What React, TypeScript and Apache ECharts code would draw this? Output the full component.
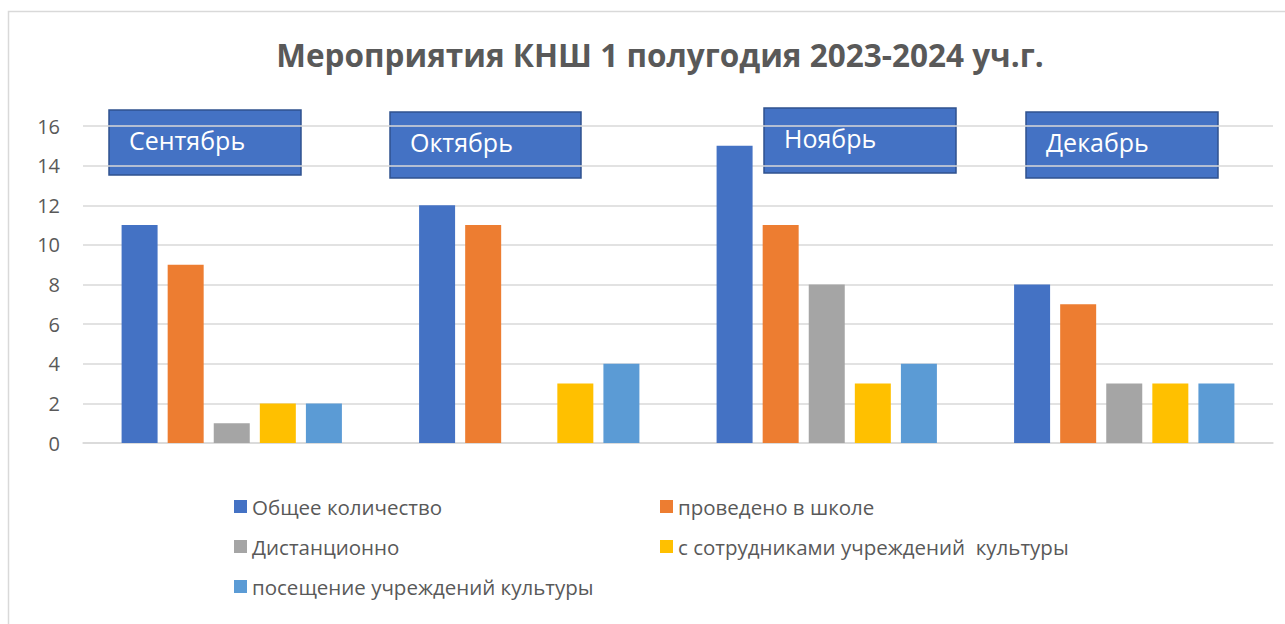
import React, { useEffect, useRef } from "react";
import * as echarts from "echarts";

const categories = ["Сентябрь", "Октябрь", "Ноябрь", "Декабрь"];
const seriesNames = [
  "Общее количество",
  "проведено в школе",
  "Дистанционно",
  "с сотрудниками учреждений  культуры",
  "посещение учреждений культуры",
];
const totalCount = [11, 12, 15, 8];
const inSchool = [9, 11, 11, 7];
const remote = [1, 0, 8, 3];
const withCulture = [2, 3, 3, 3];
const visitCulture = [2, 4, 4, 3];
const colors = ["#4472C4", "#ED7D31", "#A5A5A5", "#FFC000", "#5B9BD5"];

const monthBoxes = [
  { text: "Сентябрь", x: 109, y: 110, w: 192, h: 65 },
  { text: "Октябрь", x: 390, y: 112, w: 191, h: 66 },
  { text: "Ноябрь", x: 764, y: 108, w: 192, h: 65 },
  { text: "Декабрь", x: 1026, y: 112, w: 192, h: 66 },
];

const FONT = "'Open Sans', 'Noto Sans', sans-serif";

export default function App() {
  const ref = useRef<HTMLDivElement>(null);
  useEffect(() => {
    if (!ref.current) return;
    const chart = echarts.init(ref.current, null, { renderer: "svg" });
    const values = [totalCount, inSchool, remote, withCulture, visitCulture];
    const legendText = { color: "#595959", fontSize: 20.5, fontFamily: FONT, lineHeight: 20 };
    chart.setOption({
      animation: false,
      backgroundColor: "#ffffff",
      title: {
        text: "Мероприятия КНШ 1 полугодия 2023-2024 уч.г.",
        left: 655,
        textAlign: "center",
        top: 33,
        textStyle: { color: "#595959", fontSize: 31.5, fontWeight: "bold", fontFamily: FONT },
      },
      grid: { left: 83, right: 12, top: 126, height: 317 },
      xAxis: {
        type: "category",
        data: categories,
        axisLine: { lineStyle: { color: "#d9d9d9", width: 1.5 } },
        axisTick: { show: false },
        axisLabel: { show: false },
      },
      yAxis: {
        type: "value",
        min: 0,
        max: 16,
        interval: 2,
        axisLine: { show: false },
        axisTick: { show: false },
        axisLabel: { color: "#595959", fontSize: 20, fontFamily: FONT, margin: 23 },
        splitLine: { lineStyle: { color: "#d9d9d9", width: 1.5 } },
      },
      legend: [
        {
          orient: "vertical",
          left: 234,
          top: 496,
          padding: 0,
          itemWidth: 13,
          itemHeight: 13,
          itemGap: 19,
          icon: "rect",
          textStyle: legendText,
          data: [seriesNames[0], seriesNames[2], seriesNames[4]],
        },
        {
          orient: "vertical",
          left: 660,
          top: 496,
          padding: 0,
          itemWidth: 13,
          itemHeight: 13,
          itemGap: 19,
          icon: "rect",
          textStyle: legendText,
          data: [seriesNames[1], seriesNames[3]],
        },
      ],
      series: seriesNames.map((name, i) => ({
        name,
        type: "bar",
        data: values[i],
        barWidth: 36,
        barGap: "28%",
        itemStyle: { color: colors[i] },
      })),
      graphic: [
        {
          type: "rect",
          silent: true,
          shape: { x: 8.5, y: 11.5, width: 1300, height: 640 },
          style: { fill: "none", stroke: "#d9d9d9", lineWidth: 1.5 },
          z: -10,
        },
        ...monthBoxes.map((b) => ({
          type: "group",
          z: 100,
          children: [
            {
              type: "rect",
              shape: { x: b.x, y: b.y, width: b.w, height: b.h },
              style: { fill: "#4472C4", stroke: "#2F528F", lineWidth: 1.5 },
            },
            {
              type: "text",
              x: b.x + 20,
              y: b.y + 30,
              style: {
                text: b.text,
                fill: "#ffffff",
                fontSize: 25,
                fontFamily: FONT,
                verticalAlign: "middle",
                align: "left",
              },
            },
          ],
        })),
      ],
    });
    return () => chart.dispose();
  }, []);
  return (
    <div
      ref={ref}
      style={{ position: "fixed", left: 0, top: 0, width: 1285, height: 624 }}
    />
  );
}
